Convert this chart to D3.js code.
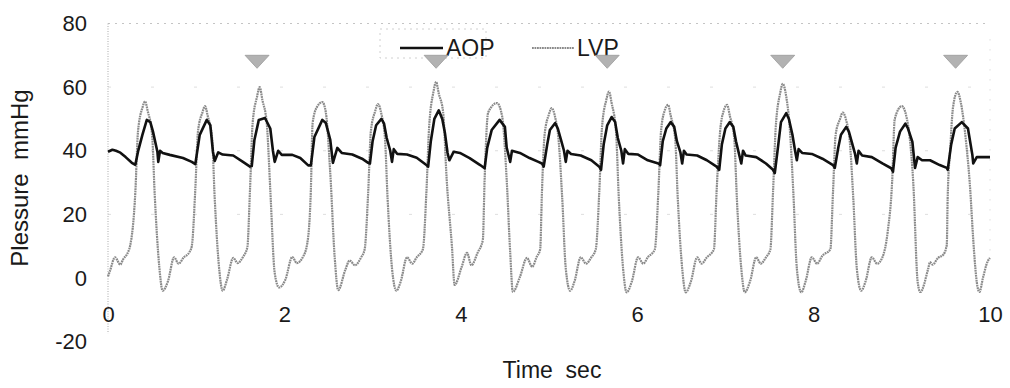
<!DOCTYPE html>
<html>
<head>
<meta charset="utf-8">
<script src="https://cdn.jsdelivr.net/npm/d3@7"></script>
<style>
  html, body { margin: 0; padding: 0; background: #fff; }
  svg { display: block; font-family: "Liberation Sans", Arial, sans-serif; }
</style>
</head>
<body>
<div id="chart"></div>
<script>
(function() {
  'use strict';

  // Pressure traces: [time sec, pressure mmHg]
  var aop = [
    [0.00, 39.7], [0.05, 40.3], [0.09, 40], [0.14, 39.4], [0.20, 38], [0.27, 36.2],
    [0.31, 35.6], [0.34, 39.7], [0.39, 45], [0.44, 49.7], [0.48, 49], [0.51, 46], [0.56, 39.7], [0.57, 36.5], [0.59, 40], [0.62, 39.3], [0.70, 38.7], [0.85, 37.7], [0.95, 36.5],
    [0.99, 35.8], [1.04, 45], [1.12, 49.7], [1.16, 48], [1.19, 39.7], [1.21, 36.8], [1.25, 39.5], [1.30, 38.8], [1.42, 38.5], [1.53, 36.5],
    [1.61, 35], [1.63, 35.2], [1.66, 43.4], [1.71, 49.7], [1.78, 50.3], [1.84, 47], [1.87, 40], [1.89, 36.5], [1.93, 40], [1.97, 38.7], [2.09, 38.7], [2.18, 37.7], [2.27, 35.4],
    [2.30, 35.4], [2.34, 44.3], [2.43, 49.7], [2.47, 48.7], [2.52, 43.4], [2.55, 36.2], [2.60, 40.9], [2.65, 39.3], [2.77, 38.8], [2.88, 37.5],
    [2.95, 36.2], [2.97, 36], [3.00, 43], [3.04, 48], [3.10, 50], [3.13, 48.5], [3.16, 44], [3.20, 40], [3.22, 36.5], [3.24, 40.5], [3.28, 39], [3.39, 38.8], [3.50, 37.8],
    [3.61, 35.5], [3.63, 35], [3.66, 43], [3.70, 50], [3.75, 52.7], [3.79, 50], [3.82, 45.6], [3.85, 39.3], [3.87, 37], [3.92, 39.7], [3.99, 39.3], [4.10, 37.7], [4.22, 35.5],
    [4.27, 34.5], [4.30, 41], [4.35, 46.5], [4.44, 49.7], [4.50, 47.5], [4.52, 41], [4.56, 36.5], [4.58, 40], [4.67, 39.3], [4.78, 37.7], [4.88, 36.5],
    [4.92, 36], [4.94, 35], [4.98, 42], [5.01, 46.5], [5.07, 48.7], [5.10, 47], [5.14, 43], [5.17, 40], [5.19, 36.5], [5.21, 40], [5.25, 39], [5.36, 38.5], [5.48, 37],
    [5.57, 35], [5.59, 34], [5.62, 42], [5.66, 48], [5.71, 50.6], [5.75, 49], [5.78, 44], [5.82, 40], [5.84, 36], [5.86, 40.5], [5.90, 39], [6.01, 38.8], [6.12, 37],
    [6.24, 36], [6.26, 35.5], [6.29, 43], [6.33, 47], [6.38, 49], [6.42, 47.5], [6.45, 43], [6.49, 39.5], [6.51, 36], [6.53, 40], [6.56, 38.8], [6.68, 38.5], [6.79, 37],
    [6.90, 35], [6.93, 34], [6.96, 42], [7.00, 47], [7.05, 49], [7.09, 47.5], [7.12, 43], [7.15, 39.5], [7.18, 36], [7.20, 40], [7.23, 38.5], [7.35, 38], [7.46, 36],
    [7.54, 34], [7.56, 33], [7.60, 42], [7.63, 49], [7.69, 51.8], [7.72, 50], [7.76, 45], [7.79, 40], [7.81, 37], [7.83, 40.5], [7.87, 39.3], [7.98, 39], [8.10, 37.5],
    [8.22, 35.5], [8.24, 34.6], [8.28, 41], [8.31, 45], [8.37, 47.5], [8.40, 46], [8.44, 42], [8.47, 39], [8.49, 36], [8.51, 40], [8.55, 38.5], [8.66, 38], [8.78, 36],
    [8.88, 34.5], [8.90, 33.4], [8.93, 41], [8.98, 46], [9.04, 48.5], [9.07, 47], [9.12, 42.8], [9.15, 34.6], [9.18, 38], [9.23, 37], [9.32, 37], [9.43, 35.5], [9.51, 34.6],
    [9.52, 34], [9.56, 42], [9.60, 47], [9.68, 49], [9.75, 47], [9.80, 38.7], [9.81, 36], [9.85, 38], [10.00, 38]
  ];

  var lvp = [
    [0.00, 0.5], [0.02, 2], [0.08, 6.5], [0.14, 4.2], [0.17, 5.8], [0.23, 8.3],
    [0.25, 10], [0.31, 27], [0.34, 46], [0.39, 53.5], [0.42, 55.5], [0.45, 52.5], [0.50, 45], [0.53, 26], [0.58, 4], [0.62, -4], [0.68, -1], [0.75, 6.5], [0.80, 4.5], [0.86, 6.5], [0.92, 8],
    [0.95, 10], [0.99, 28], [1.02, 46], [1.07, 52], [1.10, 54], [1.13, 51], [1.18, 44], [1.21, 25], [1.26, 3], [1.30, -4], [1.35, -0.5], [1.42, 6.3], [1.47, 4.7], [1.53, 6.6],
    [1.58, 9.7], [1.61, 27.7], [1.64, 48.7], [1.69, 57], [1.72, 60], [1.75, 56], [1.80, 48.7], [1.84, 27.7], [1.89, 1.6], [1.94, -3], [2.01, -0.6], [2.09, 6.6], [2.14, 4.7], [2.21, 6.6], [2.26, 11],
    [2.30, 27.7], [2.32, 48.7], [2.37, 53.8], [2.43, 55.3], [2.47, 52], [2.52, 33], [2.57, 6.6], [2.61, -3.8], [2.69, 2.5], [2.74, 5.5], [2.80, 4], [2.87, 6.5], [2.91, 9],
    [2.95, 27], [2.98, 46], [3.03, 52.5], [3.06, 54.7], [3.10, 51.5], [3.14, 44], [3.17, 25], [3.22, 3], [3.27, -4], [3.32, -1], [3.39, 6.5], [3.45, 4.5], [3.50, 6.5], [3.57, 9],
    [3.61, 27], [3.64, 47], [3.69, 58.5], [3.72, 61.6], [3.75, 58], [3.80, 52], [3.84, 31], [3.90, 9.7], [3.93, -2.2], [4.01, 3.5], [4.07, 7.9], [4.12, 4], [4.19, 7.9], [4.25, 12],
    [4.27, 31], [4.31, 52], [4.41, 55], [4.47, 50.6], [4.52, 31], [4.56, 8], [4.59, -4.4], [4.67, 0.3], [4.75, 6.3], [4.81, 3.5], [4.86, 6.6], [4.90, 9],
    [4.92, 27], [4.95, 45], [5.00, 51.5], [5.03, 53.4], [5.07, 50.5], [5.11, 43], [5.15, 25], [5.19, 3], [5.24, -4], [5.29, -1], [5.36, 6.5], [5.42, 4.5], [5.48, 6.5], [5.53, 9],
    [5.57, 27], [5.60, 47], [5.65, 56], [5.68, 58.6], [5.71, 55], [5.76, 46], [5.79, 26], [5.84, 3], [5.88, -4.5], [5.94, -1], [6.01, 6.5], [6.07, 4.5], [6.12, 6.5], [6.20, 9],
    [6.24, 27], [6.27, 46], [6.31, 52.5], [6.35, 54.4], [6.38, 51], [6.43, 44], [6.46, 25], [6.51, 3], [6.55, -4.5], [6.61, -1], [6.68, 6.5], [6.73, 4.5], [6.79, 6.5], [6.87, 9],
    [6.90, 27], [6.94, 46], [6.98, 52.5], [7.02, 54.4], [7.05, 51], [7.10, 44], [7.13, 25], [7.18, 3], [7.22, -4.5], [7.28, -1], [7.35, 6.5], [7.40, 4.5], [7.46, 6.5], [7.51, 9],
    [7.54, 27], [7.57, 47], [7.62, 58], [7.65, 61], [7.69, 57], [7.73, 47], [7.77, 27], [7.81, 3], [7.86, -4.5], [7.91, -1], [7.98, 6.5], [8.04, 4.5], [8.10, 7], [8.19, 9],
    [8.22, 27], [8.25, 45], [8.30, 50], [8.33, 52], [8.37, 49.5], [8.41, 43], [8.45, 25], [8.49, 3], [8.54, -4], [8.59, -1], [8.66, 6.5], [8.72, 4.5], [8.78, 6.5], [8.84, 14.5],
    [8.89, 30], [8.92, 50], [9.00, 54], [9.05, 51], [9.09, 44], [9.13, 30], [9.18, -1.3], [9.21, -4.4], [9.30, 3], [9.32, 5], [9.35, 4.2], [9.41, 6.3], [9.47, 7.3], [9.51, 10.4],
    [9.52, 25], [9.55, 41], [9.58, 53.5], [9.63, 58.5], [9.67, 55], [9.72, 45], [9.77, 30], [9.82, 8], [9.85, -1.3], [9.88, -4.4], [9.92, 0], [9.97, 5], [10.00, 6.3]
  ];

  // marked beats (grey triangles above the peaks)
  var markTimes = [1.69, 3.72, 5.66, 7.65, 9.61];
  var markLevel = 70;

  var xTicks = [0, 2, 4, 6, 8, 10];
  var yTicks = [-20, 0, 20, 40, 60, 80];
  var gridValues = [20, 40, 60, 80];

  var width = 1010, height = 388;
  var lvpColor = "#8a8a8a";

  var x = d3.scaleLinear().domain([0, 10]).range([108, 990]);
  var y = d3.scaleLinear().domain([-20, 80]).range([341.6, 23.5]);

  var svg = d3.select("#chart").append("svg")
    .attr("width", width)
    .attr("height", height);

  // faint dotted grid / frame like the scanned original
  svg.append("g").selectAll("line").data(gridValues).enter()
    .append("line")
    .attr("x1", x(0))
    .attr("x2", x(10))
    .attr("y1", function(d) { return y(d); })
    .attr("y2", function(d) { return y(d); })
    .attr("stroke", function(d) { return d == 80 ? "#c4c4c4" : "#dedede"; })
    .attr("stroke-width", 1)
    .attr("stroke-dasharray", function(d) { return d == 80 ? "2,5" : "3,40"; });

  svg.append("line")
    .attr("x1", x(10)).attr("x2", x(10))
    .attr("y1", y(75)).attr("y2", y(7))
    .attr("stroke", "#cfcfcf")
    .attr("stroke-dasharray", "1,9");

  // y axis
  var yAxis = svg.append("g")
    .attr("transform", "translate(" + x(0) + ",0)")
    .call(d3.axisLeft(y).tickValues(yTicks).tickSize(0).tickPadding(21)
      .tickFormat(function(d) { return String(d); }));
  yAxis.select(".domain")
    .attr("d", "M0," + y(80) + "V" + (y(-20) - 8))
    .attr("stroke", "#aaa")
    .attr("stroke-dasharray", "1,1.5");
  yAxis.selectAll("text")
    .attr("font-size", 22)
    .attr("font-family", "Liberation Sans, Arial, sans-serif")
    .attr("fill", "#1a1a1a");

  // x axis (labels only)
  var xAxis = svg.append("g")
    .attr("transform", "translate(0,300)")
    .call(d3.axisBottom(x).tickValues(xTicks).tickSize(0).tickPadding(6)
      .tickFormat(function(d) { return String(d); }));
  xAxis.select(".domain").remove();
  xAxis.selectAll("text")
    .attr("font-size", 22)
    .attr("font-family", "Liberation Sans, Arial, sans-serif")
    .attr("fill", "#1a1a1a");

  // axis titles
  svg.append("text")
    .attr("transform", "translate(28,178) rotate(-90)")
    .attr("text-anchor", "middle")
    .attr("font-size", 24)
    .attr("fill", "#1a1a1a")
    .style("white-space", "pre")
    .text("Plessure  mmHg");

  svg.append("text")
    .attr("x", 552)
    .attr("y", 378)
    .attr("text-anchor", "middle")
    .attr("font-size", 23)
    .attr("fill", "#1a1a1a")
    .style("white-space", "pre")
    .text("Time  sec");

  var line = d3.line()
    .x(function(d) { return x(d[0]); })
    .y(function(d) { return y(d[1]); });

  svg.append("path")
    .datum(lvp)
    .attr("fill", "none")
    .attr("stroke", lvpColor)
    .attr("stroke-width", 2.2)
    .attr("stroke-dasharray", "1.8,0.7")
    .attr("stroke-linejoin", "round")
    .attr("d", line.curve(d3.curveMonotoneX));

  svg.append("path")
    .datum(aop)
    .attr("fill", "none")
    .attr("stroke", "#111")
    .attr("stroke-width", 2.6)
    .attr("stroke-linejoin", "round")
    .attr("d", line.curve(d3.curveLinear));

  // legend
  var legend = svg.append("g");
  legend.append("rect")
    .attr("x", 380).attr("y", 29)
    .attr("width", 106).attr("height", 29)
    .attr("fill", "none")
    .attr("stroke", "#d0d0d0")
    .attr("stroke-dasharray", "2,4");
  legend.append("line")
    .attr("x1", 400).attr("x2", 443)
    .attr("y1", 48).attr("y2", 48)
    .attr("stroke", "#111")
    .attr("stroke-width", 2.6);
  legend.append("text")
    .attr("x", 446).attr("y", 56)
    .attr("font-size", 23)
    .attr("fill", "#1a1a1a")
    .text("AOP");
  legend.append("line")
    .attr("x1", 532).attr("x2", 574)
    .attr("y1", 48).attr("y2", 48)
    .attr("stroke", lvpColor)
    .attr("stroke-width", 2.2)
    .attr("stroke-dasharray", "1.8,0.7");
  legend.append("text")
    .attr("x", 577).attr("y", 56)
    .attr("font-size", 23)
    .attr("fill", "#1a1a1a")
    .text("LVP");

  // markers
  svg.append("g").selectAll("path").data(markTimes).enter()
    .append("path")
    .attr("d", function(d) {
      var cx = x(d), top = y(markLevel);
      return "M" + (cx - 12) + "," + top + "L" + (cx + 12) + "," + top + "L" + cx + "," + (top + 13) + "Z";
    })
    .attr("fill", "#b2b2b2")
    .attr("stroke", "#999")
    .attr("stroke-width", 0.8);
}());
</script>
</body>
</html>
